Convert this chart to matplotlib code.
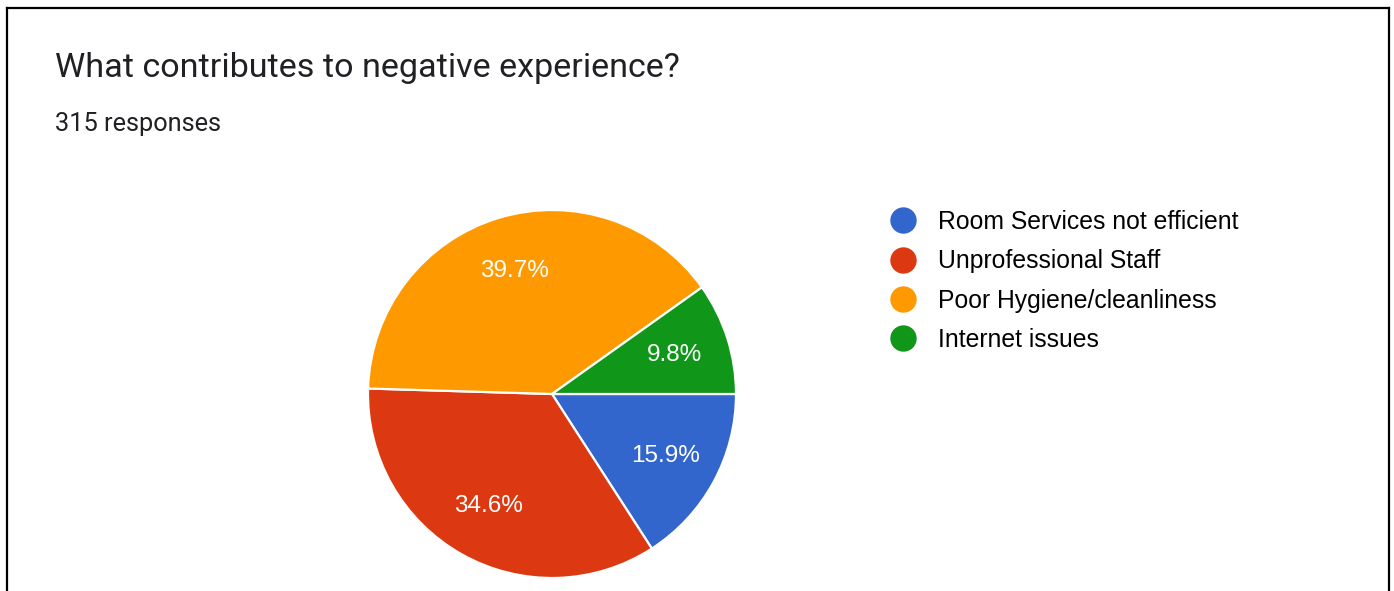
import matplotlib
matplotlib.use("Agg")
import matplotlib.pyplot as plt
from matplotlib.lines import Line2D

# survey results, 315 responses
categories = ["Room Services not efficient", "Unprofessional Staff",
              "Poor Hygiene/cleanliness", "Internet issues"]
counts = [50, 109, 125, 31]
colors = ["#3366cc", "#dc3912", "#ff9900", "#109618"]
title = "What contributes to negative experience?"
subtitle = f"{sum(counts)} responses"

W, H = 1394, 591
fig = plt.figure(figsize=(W / 100, H / 100), dpi=100)
fig.patch.set_facecolor("white")

# pie centred at (552, 394) px with radius 184 px
cx, cy, r = 552, 394, 184
ax = fig.add_axes([(cx - r) / W, (H - cy - r) / H, 2 * r / W, 2 * r / H])
wedges, texts, autotexts = ax.pie(
    counts, colors=colors, startangle=0, counterclock=False,
    autopct="%1.1f%%", pctdistance=0.70,
    wedgeprops=dict(edgecolor="white", linewidth=1.6),
    textprops=dict(color="white", fontsize=17.5, family="Liberation Sans"))
ax.set_xlim(-1, 1); ax.set_ylim(-1, 1); ax.set_aspect("equal")
ax.axis("off")

fig.text(55 / W, 1 - 77 / H, title, fontsize=24.6, family="Roboto",
         color="#202124", va="baseline", ha="left")
fig.text(55 / W, 1 - 131 / H, subtitle, fontsize=18.3, family="Roboto",
         color="#202124", va="baseline", ha="left")

handles = [Line2D([], [], linestyle="none", marker="o", markersize=18,
                  markerfacecolor=c, markeredgecolor=c) for c in colors]
fig.legend(handles, categories, loc="upper left",
           bbox_to_anchor=(891 / W, 1 - 210 / H), frameon=False,
           prop=dict(family="Liberation Sans", size=17.8),
           handlelength=1.0, handletextpad=0.9, labelspacing=0.62,
           borderaxespad=0, borderpad=0)

# frame around the card (open at the bottom)
for xs, ys in [([7, 7], [591, 8]), ([7, 1389], [8, 8]), ([1389, 1389], [8, 591])]:
    fig.add_artist(Line2D([x / W for x in xs], [1 - y / H for y in ys],
                          color="black", linewidth=1.6))

fig.savefig("out.png", dpi=100, facecolor="white")
